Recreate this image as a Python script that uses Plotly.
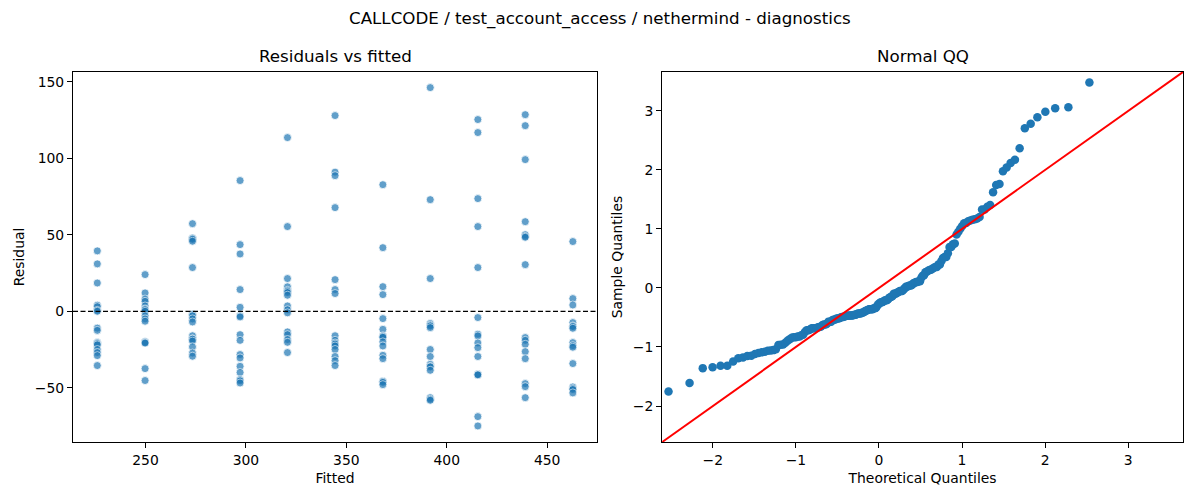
import statistics
import plotly.graph_objects as go

# ---- data ----
fitted_levels = [226.0, 249.8, 273.4, 297.1, 320.7, 344.4, 368.2, 391.8, 415.5, 439.1, 462.8]

residuals_by_level = [
    [39.5, 31, 18.5, 4, 3, 0.6, 0, -11, -12.5, -20.5, -21.2, -22, -25, -27, -29, -35.5],
    [24, 12, 8, 6.5, 3.5, 1.5, 1, 0, -3, -5, -6.5, -20, -20.5, -20.8, -37.5, -45.3],
    [57.3, 48, 47.5, 47, 45.8, 28.6, -2, -3, -5, -7, -16, -18, -18.3, -19.5, -23.3, -27.3, -29.4],
    [85.5, 43.6, 37.5, 14.2, 2.6, -3, -3.7, -15.3, -19, -28.3, -30.5, -36, -40, -44.7, -45.5, -46.9],
    [113.6, 55.4, 21.4, 16, 13.7, 13, 12.2, 10.5, 3.5, 1, -1, -13.5, -15.3, -18.5, -20.3, -27],
    [128, 91, 88.7, 67.8, 20.7, 14.2, 11.6, -16, -19, -20.7, -21.5, -22.7, -25, -29.6, -32.3, -35.5],
    [82.8, 41.6, 16.1, 10.9, -4.8, -11.8, -16, -16.5, -17, -20, -22.7, -28.8, -31, -45.8, -46.5, -48],
    [146.3, 73, 21.4, -8, -9, -9.6, -10.7, -25, -29.6, -34.7, -36, -36.4, -38.6, -56.5, -57.5, -58.2],
    [125.4, 116.9, 73.7, 55.4, 28.6, -4.1, -15, -16.1, -20.7, -23.8, -29.6, -41.2, -41.4, -41.6, -68.9, -75],
    [128.6, 121.4, 99.2, 58.6, 50.1, 49, 48.4, 30.5, -17.2, -19, -21.6, -26.4, -31, -47.3, -49.3, -56.5],
    [45.6, 8.3, 4.1, -7.4, -9.6, -10, -11.1, -20.5, -22.5, -23.5, -34.2, -49.5, -50.5, -51.2, -53.4],
]

resid_x_ticks = [250, 300, 350, 400, 450]
resid_y_ticks = [-50, 0, 50, 100, 150]
qq_ticks = [-2, -1, 0, 1, 2, 3]

suptitle = "CALLCODE / test_account_access / nethermind - diagnostics"
left_title = "Residuals vs fitted"
right_title = "Normal QQ"

# ---- flatten residual data ----
fitted = []
resid = []
for lvl, vals in zip(fitted_levels, residuals_by_level):
    fitted.extend([lvl] * len(vals))
    resid.extend(vals)

# ---- normal QQ (as statsmodels ProbPlot with fit=True, line='45') ----
n = len(resid)
mu = sum(resid) / n
sd = (sum((r - mu) ** 2 for r in resid) / n) ** 0.5
sample_q = sorted((r - mu) / sd for r in resid)
nd = statistics.NormalDist()
theo_q = [nd.inv_cdf(i / (n + 1)) for i in range(1, n + 1)]

qq_lim = [-2.61, 3.66]

FONT = "DejaVu Sans"
TICK = 13.9
TITLE = 16.7
BLUE = "#1f77b4"

# page body has an 8px margin: plot area in window = 73.3..1183 x 71.7..441.7
OFF = 8
L, R, T, B = 73.3 - OFF, 1183.0 - OFF, 71.7 - OFF, 441.7 - OFF
W, H = 1200, 500

fig = go.Figure()

fig.add_trace(go.Scatter(
    x=fitted, y=resid, mode="markers", xaxis="x", yaxis="y",
    marker=dict(color=BLUE, size=8, opacity=0.7, line=dict(color="white", width=0.8)),
    showlegend=False, hoverinfo="skip",
))

fig.add_trace(go.Scatter(
    x=theo_q, y=sample_q, mode="markers", xaxis="x2", yaxis="y2",
    marker=dict(color=BLUE, size=8.5, line=dict(width=0)),
    showlegend=False, hoverinfo="skip",
))

fig.add_trace(go.Scatter(
    x=qq_lim, y=qq_lim, mode="lines", xaxis="x2", yaxis="y2",
    line=dict(color="red", width=2),
    showlegend=False, hoverinfo="skip",
))

axis_common = dict(
    showgrid=False, zeroline=False, showline=True, linecolor="black", linewidth=1.1,
    mirror=True, ticks="outside", ticklen=5, tickwidth=1.1, tickcolor="black",
    tickfont=dict(family=FONT, size=TICK, color="black"), automargin=False,
)

span = R - L
left_dom = [0.0, (597.3 - 73.3) / span]
right_dom = [(662.3 - 73.3) / span, 1.0]
ph = B - T

fig.update_layout(
    width=W, height=H,
    margin=dict(l=L, r=W - R, t=T, b=H - B, autoexpand=False),
    paper_bgcolor="white", plot_bgcolor="white",
    font=dict(family=FONT, color="black"),
    xaxis=dict(axis_common, domain=left_dom, range=[213.9, 474.9], tickvals=resid_x_ticks,
               title=dict(text="Fitted", font=dict(family=FONT, size=TICK), standoff=6), anchor="y"),
    yaxis=dict(axis_common, range=[-85.5, 156.5], tickvals=resid_y_ticks,
               title=dict(text="Residual", font=dict(family=FONT, size=TICK), standoff=6), anchor="x"),
    xaxis2=dict(axis_common, domain=right_dom, range=qq_lim, tickvals=qq_ticks,
                title=dict(text="Theoretical Quantiles", font=dict(family=FONT, size=TICK), standoff=6), anchor="y2"),
    yaxis2=dict(axis_common, range=qq_lim, tickvals=qq_ticks,
                title=dict(text="Sample Quantiles", font=dict(family=FONT, size=TICK), standoff=6), anchor="x2"),
    shapes=[dict(type="line", xref="x domain", yref="y", x0=0, x1=1, y0=0, y1=0,
                 line=dict(color="black", width=1.2, dash="5px,2.5px"))],
    annotations=[
        dict(text=suptitle, xref="paper", yref="paper", x=0.5, y=(B - (18 - OFF)) / ph,
             xanchor="center", yanchor="middle", showarrow=False,
             font=dict(family=FONT, size=TITLE, color="black"), xshift=((600 - OFF) - (L + R) / 2)),
        dict(text=left_title, xref="x domain", yref="y domain", x=0.5, y=1,
             xanchor="center", yanchor="bottom", yshift=4, showarrow=False,
             font=dict(family=FONT, size=TITLE, color="black")),
        dict(text=right_title, xref="x2 domain", yref="y2 domain", x=0.5, y=1,
             xanchor="center", yanchor="bottom", yshift=4, showarrow=False,
             font=dict(family=FONT, size=TITLE, color="black")),
    ],
)

fig.write_html("out.html")
